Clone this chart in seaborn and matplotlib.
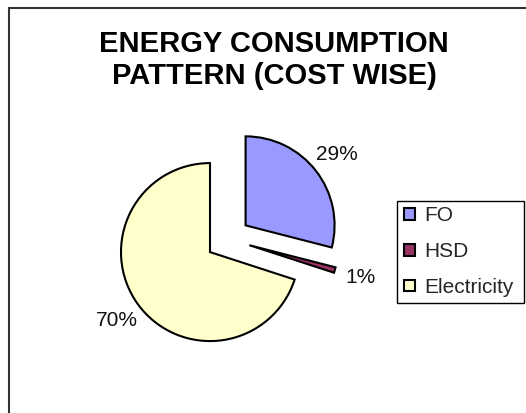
import matplotlib
matplotlib.use("Agg")
import matplotlib.pyplot as plt
import matplotlib.patches as mpatches
import seaborn as sns

categories = ["FO", "HSD", "Electricity"]
values = [29, 1, 70]
colors = ["#9999FF", "#993366", "#FFFFCC"]
title = "ENERGY CONSUMPTION\nPATTERN (COST WISE)"

sns.set_theme(style="white")
plt.rcParams["font.family"] = ["Liberation Sans", "DejaVu Sans"]

W, H = 526, 413
fig = plt.figure(figsize=(W / 100, H / 100), dpi=100)
fig.patch.set_facecolor("white")

ax = fig.add_axes([0, 0, 1, 1])
R = 89.0
cx, cy = 228.0, 239.0

wedges, texts, autotexts = ax.pie(
    values,
    colors=colors,
    startangle=90,
    counterclock=False,
    explode=[0.25] * len(values),
    autopct=lambda p: f"{p:.0f}%",
    pctdistance=1.3,
    wedgeprops=dict(edgecolor="black", linewidth=1.5),
    textprops=dict(fontsize=15, color="#111111"),
)
for t in autotexts:
    t.set_ha("center")
    t.set_va("center")

ax.set_xlim(-cx / R, (W - cx) / R)
ax.set_ylim((cy - H) / R, cy / R)
ax.set_aspect("equal")
ax.axis("off")

fig.text(274 / W, 1 - 60 / H, title, ha="center", va="center",
         fontsize=21, fontweight="bold", color="black", linespacing=1.2)

handles = [mpatches.Patch(facecolor=c, edgecolor="black", linewidth=1.5) for c in colors]
leg = fig.legend(handles, categories, loc="upper left",
                 bbox_to_anchor=(400 / W, 1 - 202 / H),
                 fontsize=15, frameon=False,
                 handlelength=0.5, handleheight=0.5, handletextpad=0.48,
                 borderpad=0.2, labelspacing=0.81, borderaxespad=0)

legend_box = mpatches.Rectangle((397 / W, 1 - 303 / H), 127 / W, 102 / H,
                                transform=fig.transFigure, fill=False,
                                edgecolor="black", linewidth=1.0)
fig.patches.append(legend_box)

border = mpatches.Rectangle((9 / W, -0.1), 1.2, 1 - 8 / H + 0.1,
                            transform=fig.transFigure, fill=False,
                            edgecolor="#333333", linewidth=1.5)
fig.patches.append(border)

fig.savefig("out.png", dpi=100)
